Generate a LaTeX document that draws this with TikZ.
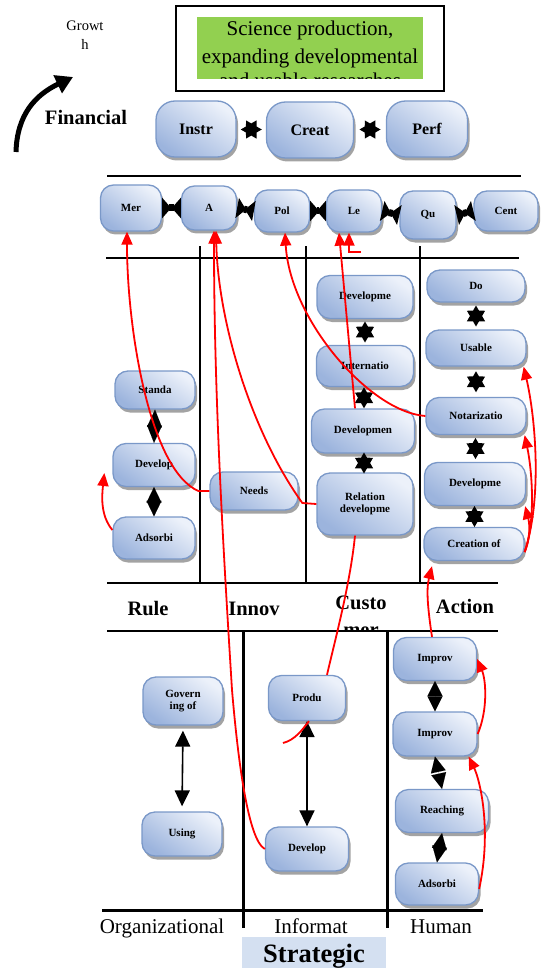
\documentclass[tikz,border=0pt]{standalone}
\usepackage{fontspec}
\setmainfont{Liberation Serif}
\usetikzlibrary{shapes.geometric, arrows.meta, shadows, calc}

\definecolor{goaledge}{RGB}{122,152,200}
\definecolor{goallight}{RGB}{236,241,250}
\definecolor{goaldark}{RGB}{156,180,221}
\definecolor{sciencegreen}{RGB}{146,208,80}
\definecolor{strategyblue}{RGB}{212,224,241}
\definecolor{linkred}{RGB}{255,0,0}

\tikzset{
  goal/.style={draw=goaledge, line width=1.3pt, rounded corners=13pt,
    top color=goallight, bottom color=goaldark, shading angle=-35,
    drop shadow={shadow xshift=2pt, shadow yshift=-3.5pt, fill=black!45, opacity=0.8},
    font=\fontsize{11}{12.5}\selectfont\bfseries, align=center, inner sep=1pt},
  biggoal/.style={goal, rounded corners=19pt, font=\fontsize{16}{18}\selectfont\bfseries},
  hexlink/.style={star, star points=6, star point ratio=1.73, fill=black, inner sep=0pt, minimum size=21pt},
  bowlink/.style={line width=7pt, {Triangle[reversed, width=20pt, length=9pt]}-{Triangle[reversed, width=20pt, length=9pt]}},
  dialink/.style={line width=0.01pt, {Triangle[width=15pt, length=#1]}-{Triangle[width=15pt, length=#1]}},
  dialink/.default=13.5pt,
  duallink/.style={line width=1.6pt, {Triangle[width=15pt, length=16pt]}-{Triangle[width=15pt, length=16pt]}},
  redarrow/.style={linkred, line width=1.8pt, -{Triangle[width=11pt, length=13pt]}},
  redline/.style={linkred, line width=1.8pt},
  lane/.style={anchor=base, font=\fontsize{20.5}{22}\selectfont\bfseries},
  area/.style={anchor=base, font=\fontsize{21}{22}\selectfont},
  divider/.style={line width=2.2pt}
}

\begin{document}
\begin{tikzpicture}[x=1pt, y=-1pt]
  \useasboundingbox (0,0) rectangle (542,968);

  % growth arrow
  \node[font=\fontsize{14.5}{19}\selectfont, align=center, anchor=north, inner sep=0pt] (growth) at (85,21) {Growt\\h};
  \coordinate (growstart) at (16,152);
  \coordinate (growtip) at (73,77);
  \draw[line width=5pt, -{Triangle[width=19pt, length=17pt]}] (growstart) .. controls (17,115) and (35,95) .. (growtip);
  \node[anchor=base, font=\fontsize{20.5}{22}\selectfont\bfseries] (financial) at (86,125) {Financial};

  % science box
  \node[draw, line width=2pt, minimum width=268pt, minimum height=85pt] (sciencebox) at (310,48.5) {};
  \fill[sciencegreen] (197,17) rectangle (423,79);
  \begin{scope}
    \clip (197,17) rectangle (423,79);
    \node[anchor=base, font=\fontsize{21}{28}\selectfont] (sci1) at (310,36) {Science production,};
    \node[anchor=base, font=\fontsize{21}{28}\selectfont] (sci2) at (310,64) {expanding developmental};
    \node[anchor=base, font=\fontsize{21}{28}\selectfont] (sci3) at (310,88) {and usable researches};
  \end{scope}

  % financial row
  \node[biggoal, minimum width=80pt, minimum height=56pt] (instr) at (196,129) {Instr};
  \node[biggoal, minimum width=87pt, minimum height=56pt] (creat) at (310,130) {Creat};
  \node[biggoal, minimum width=81pt, minimum height=56pt] (perf) at (427,129) {Perf};
  \node[hexlink, rotate=90] at ($(instr.east)!0.5!(creat.west)$) {};
  \node[hexlink, rotate=90] at ($(creat.east)!0.5!(perf.west)$) {};

  % customer row
  \node[goal, minimum width=61pt, minimum height=46pt] (mer) at (131,208) {Mer};
  \node[goal, minimum width=55pt, minimum height=44pt] (acc) at (209,208) {A};
  \node[goal, minimum width=55pt, minimum height=42pt] (pol) at (282,211) {Pol};
  \node[goal, minimum width=55pt, minimum height=42pt] (le) at (354,211) {Le};
  \node[goal, minimum width=56pt, minimum height=48pt] (qu) at (428,215) {Qu};
  \node[goal, minimum width=64pt, minimum height=40pt] (cent) at (506,211) {Cent};
  \draw[bowlink] (mer.east) -- (acc.west);
  \draw[bowlink] (acc.east) -- (pol.west);
  \draw[bowlink] (pol.east) -- (le.west);
  \draw[bowlink] (le.east) -- (qu.west);
  \draw[bowlink] (qu.east) -- (cent.west);

  % internal process grid
  \draw[divider] (107,176) -- (521,176);
  \draw[divider] (106,258) -- (519,258);
  \draw[divider] (200,246) -- (200,583);
  \draw[divider] (306,246) -- (306,583);
  \draw[divider] (420,246) -- (420,583);
  \draw[divider] (107,583) -- (498,583);
  \draw[divider] (107,631) -- (498,631);

  \node[goal, minimum width=80pt, minimum height=38pt] (standa) at (155,390) {Standa};
  \node[goal, minimum width=82pt, minimum height=43pt] (develop) at (154,465) {Develop};
  \node[goal, minimum width=82pt, minimum height=42pt] (adsorbi) at (154,538) {Adsorbi};
  \draw[dialink=17.5pt] (standa.south) -- (develop.north);
  \draw[dialink=15.5pt] (develop.south) -- (adsorbi.north);

  \node[goal, minimum width=88pt, minimum height=38pt] (needs) at (254,491) {Needs};

  \node[goal, minimum width=96pt, minimum height=43pt] (devcomp) at (365,297) {Developme};
  \node[goal, minimum width=97pt, minimum height=41pt] (internat) at (365,366) {Internatio};
  \node[goal, minimum width=103pt, minimum height=44pt] (devmen) at (363,431) {Developmen};
  \node[goal, minimum width=96pt, minimum height=62pt] (relation) at (365,504) {Relation\\developme};
  \node[hexlink] at ($(devcomp.south)!0.5!(internat.north)$) {};
  \node[hexlink] at ($(internat.south)!0.5!(devmen.north)$) {};
  \node[hexlink] at ($(devmen.south)!0.5!(relation.north)$) {};

  \node[goal, minimum width=98pt, minimum height=32pt] (docs) at (476,286) {Do};
  \node[goal, minimum width=100pt, minimum height=36pt] (usable) at (476,348) {Usable};
  \node[goal, minimum width=100pt, minimum height=37pt] (notar) at (476,416) {Notarizatio};
  \node[goal, minimum width=101pt, minimum height=43pt] (devtwo) at (475,484) {Developme};
  \node[goal, minimum width=100pt, minimum height=33pt] (creation) at (474,544) {Creation of};
  \node[hexlink] at ($(docs.south)!0.5!(usable.north)$) {};
  \node[hexlink] at ($(usable.south)!0.5!(notar.north)$) {};
  \node[hexlink] at ($(notar.south)!0.5!(devtwo.north)$) {};
  \node[hexlink] at ($(devtwo.south)!0.5!(creation.north)$) {};

  % lane titles
  \node[lane] (rule) at (148,615) {Rule};
  \node[lane] (innov) at (254,615) {Innov};
  \node[lane] (custo) at (361,609) {Custo};
  \begin{scope}
    \clip (330,612) rectangle (395,630);
    \node[lane] (mer2) at (361,636) {mer};
  \end{scope}
  \node[lane] (action) at (465,613) {Action};

  % learning and growth
  \draw[divider, line width=3pt] (243,631) -- (243,928);
  \draw[divider, line width=3pt] (387,631) -- (387,928);
  \draw[divider, line width=3pt] (102,910) -- (483,910);

  \node[goal, minimum width=80pt, minimum height=48pt] (govern) at (183,701) {Govern\\ing of};
  \node[goal, minimum width=80pt, minimum height=44pt] (using) at (182,834) {Using};
  \draw[duallink, shorten <=5pt, shorten >=5pt] (govern.south) -- (using.north);

  \node[goal, minimum width=77pt, minimum height=45pt] (produ) at (307,698) {Produ};
  \node[goal, minimum width=83pt, minimum height=44pt] (devinfo) at (307,849) {Develop};
  \draw[duallink] (produ.south) -- (devinfo.north);

  \node[goal, minimum width=83pt, minimum height=43pt] (improva) at (435,659) {Improv};
  \node[goal, minimum width=84pt, minimum height=44pt] (improvb) at (435,734) {Improv};
  \node[goal, minimum width=93pt, minimum height=43pt] (reaching) at (442,811) {Reaching};
  \node[goal, minimum width=83pt, minimum height=42pt] (adsorbh) at (437,884) {Adsorbi};
  \draw[dialink=15pt] (improva.south) -- (improvb.north);
  \draw[dialink=15.5pt] (improvb.south) -- (reaching.north);
  \draw[dialink=16pt] (reaching.south) -- (adsorbh.north);

  \node[area] (organizational) at (162,933) {Organizational};
  \node[area] (informat) at (311,933) {Informat};
  \node[area] (human) at (441,933) {Human};
  \fill[strategyblue] (242,937) rectangle (386,968);
  \node[anchor=base, font=\fontsize{26.5}{28}\selectfont\bfseries] (strategic) at (314,962) {Strategic};

  % cause and effect links
  \coordinate (lestub) at (361,252);
  \coordinate (prodtail) at (283,743);
  \draw[redarrow] (needs.west) -- ++(-11,0) .. controls (150,470) and (127,330) .. ([xshift=-4pt]mer.south);
  \draw[redarrow] (devinfo.west) .. controls (248,840) and (238,760) .. (232,690) .. controls (224,560) and (214,400) .. ([xshift=5pt]acc.south);
  \draw[redarrow] (relation.west) -- ++(-14,-1) .. controls (250,430) and (218,320) .. ([xshift=7pt]acc.south);
  \draw[redarrow] (notar.west) .. controls (370,412) and (290,320) .. ([xshift=3pt]pol.south);
  \draw[redarrow] ([xshift=-8pt]devmen.north) -- ([xshift=-15pt]le.south);
  \draw[redarrow] (lestub) -| ([xshift=-5pt]le.south);
  \draw[redline] ([xshift=-10pt]relation.south) .. controls (350,585) and (335,640) .. ([xshift=20pt]produ.north);
  \draw[redline] (prodtail) .. controls (295,740) and (302,730) .. ([xshift=2pt]produ.south);
  \draw[redarrow] ([xshift=-3pt]improva.north) .. controls (428,610) and (426,590) .. ([xshift=-42pt, yshift=-5pt]creation.south);
  \draw[redarrow] ([yshift=-8pt]creation.east) .. controls (542,500) and (536,420) .. ([xshift=-3pt]usable.south east);
  \draw[redarrow] ([yshift=-8pt]creation.east) .. controls (536,520) and (532,470) .. ([xshift=-2pt]notar.south east);
  \draw[redarrow] ([yshift=-8pt]creation.east) .. controls (530,540) and (530,525) .. ([xshift=-1pt]devtwo.south east);
  \draw[redarrow] (improvb.east) .. controls (488,710) and (486,680) .. (improva.east);
  \draw[redarrow] ([yshift=-5pt]adsorbh.east) .. controls (492,830) and (480,780) .. ([xshift=-9pt]improvb.south east);
  \draw[redarrow] ([yshift=8pt]adsorbi.west) .. controls (100,515) and (102,495) .. ([xshift=-8pt, yshift=-8pt]develop.west);
\end{tikzpicture}
\end{document}
